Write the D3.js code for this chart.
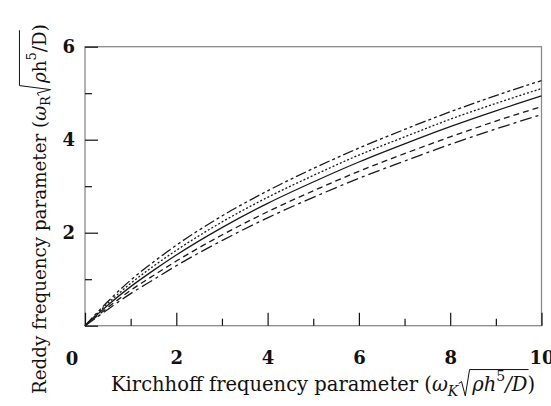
<!DOCTYPE html>
<html lang="en">
<head>
	<meta charset="UTF-8">
	<script type="text/javascript" src="https://d3js.org/d3.v7.min.js"></script>
	<title>reddy vs kirchhoff frequency parameter</title>
	<style>
		body { margin: 0; background: #fff; }
	</style>
</head>
<body>

<svg id="chart" width="551" height="406"></svg>

<script type="text/javascript">
	// data
	var kirchhoff = [0, 0.5, 1, 1.5, 2, 3, 4, 5, 6, 7, 8, 9, 10]
	var chainDotted = [0, 0.52, 0.98, 1.37, 1.73, 2.36, 2.90, 3.38, 3.82, 4.22, 4.60, 4.95, 5.27]
	var dotted = [0, 0.48, 0.91, 1.28, 1.62, 2.23, 2.76, 3.23, 3.67, 4.06, 4.44, 4.78, 5.10]
	var solid = [0, 0.44, 0.84, 1.19, 1.52, 2.11, 2.63, 3.09, 3.52, 3.91, 4.28, 4.62, 4.94]
	var dashed = [0, 0.39, 0.76, 1.08, 1.39, 1.95, 2.45, 2.90, 3.32, 3.70, 4.06, 4.40, 4.71]
	var chain = [0, 0.35, 0.69, 0.99, 1.29, 1.83, 2.32, 2.76, 3.17, 3.54, 3.90, 4.23, 4.54]

	var xMajor = [0, 2, 4, 6, 8, 10]
	var xMinor = [1, 3, 5, 7, 9]
	var yMajor = [0, 2, 4, 6]
	var yMinor = [1, 3, 5]

	var series = [
		{ values: chainDotted, dash: "11,3,3,3,3,3" },
		{ values: dotted, dash: "2,2" },
		{ values: solid, dash: null },
		{ values: dashed, dash: "6,4" },
		{ values: chain, dash: "12,4,3,4" }
	]

	var serif = "'DejaVu Serif', 'Liberation Serif', serif"

	var svg = d3.select("#chart")

	var x = d3.scaleLinear().domain([0, 10]).range([85, 541.5])
	var y = d3.scaleLinear().domain([0, 6]).range([325.7, 46.7])

	// frame
	svg.append("rect")
		.attr("x", x(0))
		.attr("y", y(6))
		.attr("width", x(10) - x(0))
		.attr("height", y(0) - y(6))
		.attr("fill", "none")
		.attr("stroke", "#8a8a8a")
		.attr("stroke-width", 1.3)

	// inward ticks
	var xAxis = svg.append("g")
		.attr("transform", "translate(0," + y(0) + ")")
		.call(d3.axisBottom(x).tickValues(xMajor).tickSize(-13).tickPadding(26)
			.tickFormat(function(d) { return d === 0 ? "" : d; }))
	var xAxisMinor = svg.append("g")
		.attr("transform", "translate(0," + y(0) + ")")
		.call(d3.axisBottom(x).tickValues(xMinor).tickSize(-7).tickFormat(""))
	var yAxis = svg.append("g")
		.attr("transform", "translate(" + x(0) + ",0)")
		.call(d3.axisLeft(y).tickValues(yMajor).tickSize(-13).tickPadding(10)
			.tickFormat(function(d) { return d === 0 ? "" : d; }))
	var yAxisMinor = svg.append("g")
		.attr("transform", "translate(" + x(0) + ",0)")
		.call(d3.axisLeft(y).tickValues(yMinor).tickSize(-7).tickFormat(""))

	svg.selectAll(".domain").remove()
	svg.selectAll(".tick line").attr("stroke", "#111").attr("stroke-width", 1.2)
	svg.selectAll(".tick text")
		.attr("font-family", serif)
		.attr("font-weight", "bold")
		.attr("font-size", 18)
		.attr("fill", "#111")

	// shared origin label
	svg.append("text")
		.attr("x", x(0) - 13)
		.attr("y", y(0) + 39)
		.attr("text-anchor", "middle")
		.attr("font-family", serif)
		.attr("font-weight", "bold")
		.attr("font-size", 18)
		.attr("fill", "#111")
		.text("0")

	// curves
	var line = d3.line()
		.curve(d3.curveMonotoneX)
		.x(function(d, i) { return x(kirchhoff[i]); })
		.y(function(d) { return y(d); })

	svg.selectAll("path.curve")
		.data(series)
		.enter()
		.append("path")
		.attr("class", "curve")
		.attr("d", function(s) { return line(s.values); })
		.attr("fill", "none")
		.attr("stroke", "#1a1a1a")
		.attr("stroke-width", 1.3)
		.attr("stroke-dasharray", function(s) { return s.dash; })

	// title with a radical drawn as a path
	function mathTitle(g, size, parts, radFrom, radTo, radH) {
		var t = g.append("text")
			.attr("x", 0).attr("y", 0)
			.attr("font-family", serif)
			.attr("font-size", size)
			.attr("fill", "#111")
		var idx = 0, starts = []
		parts.forEach(function(p) {
			var ts = t.append("tspan").text(p.t)
			if (p.italic) ts.attr("font-style", "italic")
			if (p.small) ts.attr("font-size", size * 0.72)
			if (p.dy) ts.attr("dy", p.dy)
			if (p.dx) ts.attr("dx", p.dx)
			starts.push(idx)
			idx += p.t.length
		})
		var node = t.node()
		var x0 = node.getStartPositionOfChar(starts[radFrom]).x - size * 0.7
		var x1 = node.getEndPositionOfChar(starts[radTo] + parts[radTo].t.length - 1).x + 1
		var top = -size * radH
		g.append("path")
			.attr("d", "M" + (x0) + "," + (-size * 0.38) +
				"L" + (x0 + size * 0.15) + "," + (-size * 0.48) +
				"L" + (x0 + size * 0.34) + "," + (size * 0.25) +
				"L" + (x0 + size * 0.56) + "," + top +
				"L" + x1 + "," + top)
			.attr("fill", "none")
			.attr("stroke", "#111")
			.attr("stroke-width", 1)
	}

	var gx = svg.append("g").attr("transform", "translate(111,391)")
	mathTitle(gx, 19.5, [
		{ t: "Kirchhoff frequency parameter (" },
		{ t: "\u03c9", italic: true },
		{ t: "K", italic: true, small: true, dy: 5 },
		{ t: "\u03c1h", italic: true, dy: -5, dx: 14 },
		{ t: "5", small: true, dy: -10 },
		{ t: "/D", italic: true, dy: 10 },
		{ t: ")" }
	], 3, 5, 1.1)

	var gy = svg.append("g").attr("transform", "translate(46,394) rotate(-90)")
	mathTitle(gy, 18.3, [
		{ t: "Reddy frequency parameter (" },
		{ t: "\u03c9", italic: true },
		{ t: "R", small: true, dy: 4 },
		{ t: "\u03c1", italic: true, dy: -4, dx: 13 },
		{ t: "h" },
		{ t: "5", small: true, dy: -10 },
		{ t: "/D", dy: 10 },
		{ t: ")" }
	], 3, 6, 1.45)
</script>

</body>
</html>
